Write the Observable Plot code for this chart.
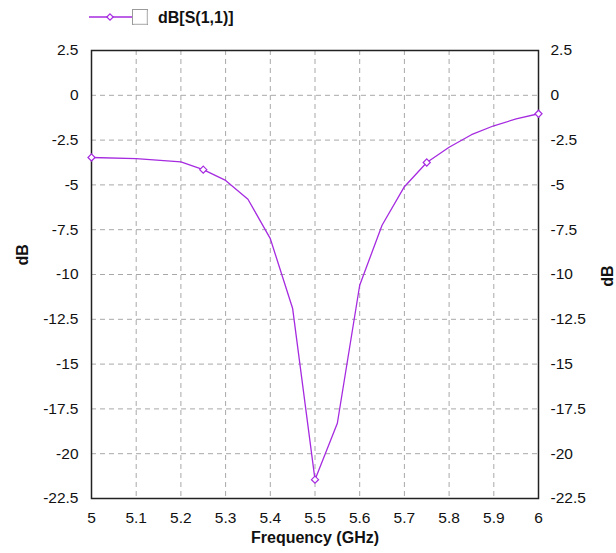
<!DOCTYPE html>
<html>
<head>
<meta charset="utf-8">
<script src="https://cdn.jsdelivr.net/npm/d3@7"></script>
<script src="https://cdn.jsdelivr.net/npm/@observablehq/plot@0.6"></script>
<style>
  body { margin: 0; background: #fff; font-family: "Liberation Sans", Arial, sans-serif; }
  #wrap { position: relative; width: 616px; height: 553px; }
  #legend { position: absolute; left: 0; top: 0; width: 300px; height: 34px; }
</style>
</head>
<body>
<div id="wrap">
  <div id="chart"></div>
  <svg id="legend" width="300" height="34">
    <line x1="89" y1="17" x2="132" y2="17" stroke="#a62be0" stroke-width="1.3"></line>
    <path d="M110,13.8 L113.2,17 L110,20.2 L106.8,17 Z" fill="#fff" stroke="#a62be0" stroke-width="1.2"></path>
    <rect x="132.5" y="9.5" width="15" height="15" fill="#fff" stroke="#9a9a9a" stroke-width="1"></rect>
    <line x1="133.5" y1="24" x2="147" y2="24" stroke="#d8d8d8"></line>
    <line x1="147" y1="10.5" x2="147" y2="24" stroke="#d8d8d8"></line>
    <text x="158" y="23" font-family="Liberation Sans, Arial, sans-serif" font-size="16" font-weight="bold" fill="#111">dB[S(1,1)]</text>
  </svg>
</div>
<script>
const freq = [5.0, 5.1, 5.2, 5.25, 5.3, 5.35, 5.4, 5.45, 5.5, 5.55, 5.6, 5.65, 5.7, 5.75, 5.8, 5.85, 5.9, 5.95, 6.0];
const s11 = [-3.47, -3.53, -3.72, -4.15, -4.75, -5.8, -8.0, -11.9, -21.45, -18.3, -10.6, -7.25, -5.1, -3.75, -2.9, -2.2, -1.7, -1.32, -1.03];
const markerFreq = [5.0, 5.25, 5.5, 5.75, 6.0];
const xTicks = [5, 5.1, 5.2, 5.3, 5.4, 5.5, 5.6, 5.7, 5.8, 5.9, 6];
const yTicks = [2.5, 0, -2.5, -5, -7.5, -10, -12.5, -15, -17.5, -20, -22.5];
const xLabel = "Frequency (GHz)";
const yLabel = "dB";

const data = freq.map((f, i) => ({f, v: s11[i]}));
const markers = data.filter(d => markerFreq.includes(d.f));
const lineColor = "#a62be0";
const fmt = d => String(d);

const chart = Plot.plot({
  width: 616,
  height: 553,
  marginLeft: 91,
  marginRight: 78,
  marginTop: 50,
  marginBottom: 55,
  style: {fontFamily: "Liberation Sans, Arial, sans-serif", fontSize: "16px", color: "#111", background: "white"},
  x: {domain: [5, 6], label: null, axis: null},
  y: {domain: [-22.5, 2.5], label: null, axis: null},
  marks: [
    Plot.gridX(xTicks.slice(1, -1), {stroke: "#a8a8a8", strokeOpacity: 1, strokeDasharray: "5,4", strokeWidth: 1}),
    Plot.gridY(yTicks.slice(1, -1), {stroke: "#a8a8a8", strokeOpacity: 1, strokeDasharray: "5,4", strokeWidth: 1}),
    Plot.text(xTicks, {x: d => d, frameAnchor: "bottom", dy: 24, text: fmt, fontSize: 15.5, fill: "#111"}),
    Plot.text(yTicks, {y: d => d, frameAnchor: "left", dx: -13, textAnchor: "end", text: fmt, fontSize: 15.5, fill: "#111"}),
    Plot.text(yTicks, {y: d => d, frameAnchor: "right", dx: 12, textAnchor: "start", text: fmt, fontSize: 15.5, fill: "#111"}),
    Plot.frame({stroke: "#222", strokeWidth: 1.5}),
    Plot.line(data, {x: "f", y: "v", stroke: lineColor, strokeWidth: 1.3}),
    Plot.dot(markers, {x: "f", y: "v", symbol: "diamond2", r: 3.2, fill: "white", stroke: lineColor, strokeWidth: 1.2}),
    Plot.text([yLabel], {frameAnchor: "left", dx: -69, dy: -9, rotate: -90, text: d => d, fontWeight: "bold", fontSize: 16}),
    Plot.text([yLabel], {frameAnchor: "right", dx: 69, dy: -9, rotate: -90, text: d => d, fontWeight: "bold", fontSize: 16}),
    Plot.text([xLabel], {frameAnchor: "bottom", dy: 44, text: d => d, fontWeight: "bold", fontSize: 16})
  ]
});
document.getElementById("chart").appendChild(chart);
</script>
</body>
</html>
